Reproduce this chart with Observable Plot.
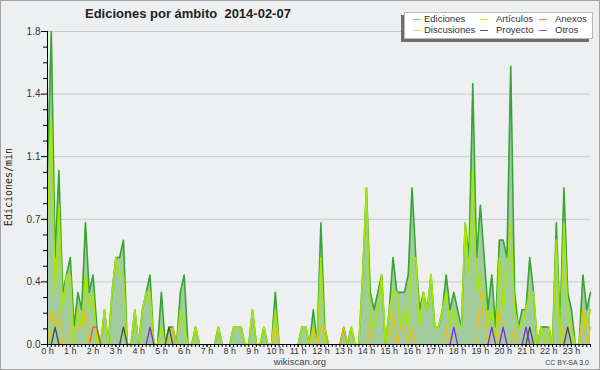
<!DOCTYPE html>
<html><head><meta charset="utf-8">
<script src="https://cdn.jsdelivr.net/npm/d3@7"></script>
<script src="https://cdn.jsdelivr.net/npm/@observablehq/plot@0.6"></script>
<style>
body{margin:0;background:#eeeff1;}
#wrap{position:relative;width:600px;height:370px;background:#eeeff1;overflow:hidden;font-family:"Liberation Sans",Arial,sans-serif;color:#333;}
#chart{position:absolute;left:0;top:0;}
.abs{position:absolute;white-space:pre;}
#frame{position:absolute;left:0;top:0;width:598px;height:368px;border:1px solid #a4a4a4;pointer-events:none;}
</style></head><body>
<div id="wrap">
  <div id="chart"></div>
  <div id="frame"></div>
  <div id="title" class="abs" style="left:85px;top:6px;font:bold 13px 'Liberation Sans',Arial,sans-serif;line-height:16px;color:#1e1e1e;"></div>
  <div id="legend"></div>
  <div id="ytitle" class="abs" style="left:9px;top:187px;transform:translate(-50%,-50%) rotate(-90deg);font:10px 'DejaVu Sans Mono',monospace;line-height:12px;color:#222;"></div>
  <div id="site" class="abs" style="left:300px;top:357px;transform:translateX(-50%);font:9.5px 'Liberation Sans',Arial,sans-serif;line-height:10px;color:#444;"></div>
  <div id="lic" class="abs" style="right:11px;top:358px;font:7px 'Liberation Sans',Arial,sans-serif;line-height:9px;color:#444;"></div>
</div>
<script>
// ---- texts ----
const titleText = "Ediciones por ámbito  2014-02-07";
const yTitle = "Ediciones/min";
const siteText = "wikiscan.org";
const licText = "CC BY-SA 3.0";

// ---- legend series ----
const seriesNames  = ["Ediciones", "Artículos", "Anexos", "Discusiones", "Proyecto", "Otros"];
const seriesColors = ["#35a535", "#a8e600", "#e8561c", "#f2c000", "#444444", "#7a22e0"];
const legendColors = ["#7ccf7c", "#c8ec4c", "#ff7a48", "#ffcc44", "#555555", "#9a50ff"];

// ---- axis ticks ----
const yMajor = [0, 0.36, 0.72, 1.08, 1.44, 1.8];
const yMinor = [0.09,0.18,0.27,0.45,0.54,0.63,0.81,0.90,0.99,1.17,1.26,1.35,1.53,1.62,1.71];
const hours = d3.range(24);
const hourLabels = hours.map(h => h + " h");

// ---- data: edits per minute, one value per 10 minutes (6 per hour) ----
const ediciones = [
  [1.0,1.8,0.5,1.0,0.3,0.4],[0.5,0.1,0.3,0.2,0.7,0.3],[0.4,0.1,0,0.2,0,0.3],[0.5,0.5,0.6,0,0,0.2],
  [0,0.2,0.3,0.4,0,0],[0.3,0,0.1,0.1,0,0.3],[0.4,0,0,0.1,0,0],[0,0,0,0.1,0,0],
  [0,0.1,0.1,0.1,0,0],[0.2,0,0,0.1,0,0],[0.3,0,0,0,0,0],[0,0.1,0.1,0,0.2,0],
  [0.7,0.1,0,0,0,0],[0.1,0,0.1,0,0,0.4],[0.9,0.3,0.2,0.3,0.4,0],[0.2,0.5,0.3,0.3,0.3,0.4],
  [0.9,0.5,0.2,0.3,0.2,0.4],[0.1,0.1,0.2,0.4,0.2,0.3],[0.2,0.1,0.7,0.5,1.5,0.5],[0.8,0.5,0.2,0.4,0.1,0.6],
  [0.6,0.5,1.6,0.3,0.1,0.2],[0.2,0.5,0.3,0,0.1,0.1],[0.1,0,0.7,0.1,0.9,0.3],[0.2,0,0,0.4,0.2,0.3]
].flat();
const articulos = [
  [0.7,1.3,0.3,0.8,0.2,0.4],[0.4,0,0.2,0.1,0.4,0.2],[0.3,0,0,0.2,0,0.3],[0.5,0.4,0.4,0,0,0.2],
  [0,0.2,0.3,0.3,0,0],[0.1,0,0.1,0,0,0.2],[0.1,0,0,0.1,0,0],[0,0,0,0.1,0,0],
  [0,0.1,0.1,0.1,0,0],[0.2,0,0,0.1,0,0],[0.2,0,0,0,0,0],[0,0.1,0.1,0,0.1,0],
  [0.5,0,0,0,0,0],[0,0,0.1,0,0,0.4],[0.9,0.1,0.1,0.2,0.4,0],[0.2,0.3,0.3,0.1,0.2,0.1],
  [0.5,0.5,0.1,0.3,0.2,0.4],[0.1,0.1,0.2,0.3,0.1,0.2],[0.1,0.1,0.7,0.4,1.0,0.3],[0.4,0.3,0.1,0.2,0,0.5],
  [0.2,0.4,0.7,0.2,0.1,0.1],[0.2,0.3,0.3,0,0.1,0],[0.1,0,0.6,0,0.7,0.2],[0.1,0,0,0.2,0.1,0.2]
].flat();
const anexos = [
  [0,0,0,0,0,0],[0,0,0,0,0,0],[0.1,0.1,0,0,0,0],[0,0,0,0,0,0],[0,0,0,0,0,0],[0,0,0,0,0,0],
  [0,0,0,0,0,0],[0,0,0,0,0,0],[0,0,0,0,0,0],[0,0,0,0,0,0],[0,0,0,0,0,0],[0,0,0,0,0,0],
  [0,0,0,0,0,0],[0,0,0,0,0,0],[0,0,0,0,0,0],[0,0,0,0,0,0],[0,0,0,0,0,0],[0,0,0,0,0,0],
  [0,0,0,0,0,0],[0,0,0,0,0,0],[0,0,0,0,0,0],[0,0,0,0,0,0],[0,0,0,0,0,0],[0,0,0,0,0,0]
].flat();
const discusiones = [
  [0,0.2,0.1,0.2,0,0],[0.1,0.1,0.1,0.1,0.2,0],[0,0,0,0,0,0],[0,0,0,0,0,0],[0,0,0,0,0,0],[0,0,0,0.1,0,0],
  [0,0,0,0,0,0],[0,0,0,0,0,0],[0,0,0,0,0,0],[0,0,0,0,0,0],[0.1,0,0,0,0,0],[0,0,0,0,0.1,0],
  [0.1,0.1,0,0,0,0],[0.1,0,0,0,0,0],[0,0.1,0,0,0,0],[0,0.2,0,0.1,0.1,0],[0.1,0,0,0,0,0],[0,0,0,0.1,0,0],
  [0,0,0,0,0,0],[0.3,0.1,0,0,0,0.2],[0.1,0,0,0.1,0,0],[0,0,0,0,0,0],[0,0,0,0,0.1,0.1],[0,0,0,0.2,0,0.1]
].flat();
const proyecto = [
  [0,0,0.1,0,0,0],[0,0,0,0,0,0],[0,0,0,0,0,0],[0,0,0.1,0,0,0],[0,0,0,0,0,0],[0,0,0.1,0,0,0],
  [0,0,0,0,0,0],[0,0,0,0,0,0],[0,0,0,0,0,0],[0,0,0,0,0,0],[0,0,0,0,0,0],[0,0,0,0,0,0],
  [0,0,0,0,0,0],[0,0,0,0,0,0],[0,0,0,0,0,0],[0,0,0,0,0,0],[0,0,0,0,0,0],[0,0,0,0,0,0],
  [0,0,0,0,0,0],[0,0,0,0,0,0],[0,0,0,0,0,0],[0,0.1,0,0,0,0],[0,0,0,0,0,0.1],[0,0,0,0,0,0]
].flat();
const otros = [
  [0,0,0,0,0,0],[0,0,0,0,0,0],[0,0,0,0,0,0],[0,0,0,0,0,0],[0,0,0,0.1,0,0],[0,0,0,0,0,0],
  [0,0,0,0,0,0],[0,0,0,0,0,0],[0,0,0,0,0,0],[0,0,0,0,0,0],[0,0,0,0,0,0],[0,0,0,0,0,0],
  [0,0,0,0,0,0],[0,0,0,0,0,0],[0,0,0,0,0,0],[0,0,0,0,0,0],[0,0,0,0,0,0],[0,0,0,0,0,0.1],
  [0,0,0,0,0,0],[0,0,0,0.1,0,0],[0.1,0,0,0,0,0],[0.1,0,0,0,0,0],[0,0,0,0,0,0],[0,0,0,0,0,0]
].flat();

// time of each 10-minute bin, in hours
const times = d3.range(ediciones.length).map(i => i / 6);

// hide flat runs at zero (the reference only draws the line near non-zero values)
function gapped(v) {
  return v.map((d, i) => (d > 0 || v[i - 1] > 0 || v[i + 1] > 0) ? d : NaN);
}

const series = [ediciones, articulos, anexos, discusiones, proyecto, otros];
const widths = [1.6, 1.6, 1.2, 1.2, 1.2, 1.2];

const lineMarks = series.map((v, s) =>
  Plot.line(times, {x: d => d, y: gapped(v), stroke: seriesColors[s], strokeWidth: widths[s], strokeLinejoin: "round"})
);

const chart = Plot.plot({
  width: 600, height: 370,
  marginLeft: 47, marginRight: 10, marginTop: 31, marginBottom: 26,
  x: {domain: [0, times[times.length - 1]], axis: null},
  y: {domain: [0, 1.8], axis: null},
  style: {background: "transparent", fontFamily: "'Liberation Sans', Arial, sans-serif", fontSize: "10px", color: "#222"},
  marks: [
    Plot.gridY(yMajor, {stroke: "#c9c9c9", strokeOpacity: 1, strokeWidth: 1}),
    Plot.areaY(times, {x: d => d, y: ediciones, fill: "#a0cc9e", fillOpacity: 1}),
    ...lineMarks,
    Plot.ruleY([0], {stroke: "#000"}),
    Plot.ruleX([0], {stroke: "#000"}),
    Plot.axisY(yMajor, {tickSize: 6, tickPadding: 1, tickFormat: d3.format(".1f"), label: null, stroke: "#000", fill: "#333", fontSize: 10}),
    Plot.axisY(yMinor, {tickSize: 4, tickFormat: () => "", label: null, stroke: "#000"}),
    Plot.axisX(times, {tickSize: 3, tickFormat: () => "", label: null, stroke: "#000"}),
    Plot.axisX(hours, {tickSize: 3, tickPadding: 0, tickFormat: h => hourLabels[h], label: null, stroke: "#000", fill: "#333", fontSize: 9, letterSpacing: "-0.2px"})
  ]
});
document.getElementById("chart").appendChild(chart);

// ---- texts ----
document.getElementById("title").textContent = titleText;
document.getElementById("ytitle").textContent = yTitle;
document.getElementById("site").textContent = siteText;
document.getElementById("lic").textContent = licText;

// ---- legend ----
const lg = document.getElementById("legend");
const legendCols = [413, 480, 539];   // swatch x per column
const legendTextX = [424, 496, 555];
const legendRows = [18.5, 29.5];
lg.innerHTML =
  `<div class="abs" style="left:401px;top:15px;width:188px;height:27px;background:#6e6e6e;"></div>` +
  `<div class="abs" style="left:404px;top:12px;width:189px;height:27px;box-sizing:border-box;background:#fff;border:1px solid #b8b8b8;"></div>`;
const order = [[0, 0, 0], [1, 0, 1], [2, 0, 2], [3, 1, 0], [4, 1, 1], [5, 1, 2]];
for (const [s, r, c] of order) {
  const y = legendRows[r];
  lg.innerHTML +=
    `<div class="abs" style="left:${legendCols[c]}px;top:${Math.round(y)}px;width:8px;height:0;border-top:1px solid ${legendColors[s]};"></div>` +
    `<div class="abs" style="left:${legendTextX[c]}px;top:${y - 6}px;font:9.5px 'Liberation Sans',Arial,sans-serif;line-height:11px;color:#333;">${seriesNames[s]}</div>`;
}
</script>
</body></html>
